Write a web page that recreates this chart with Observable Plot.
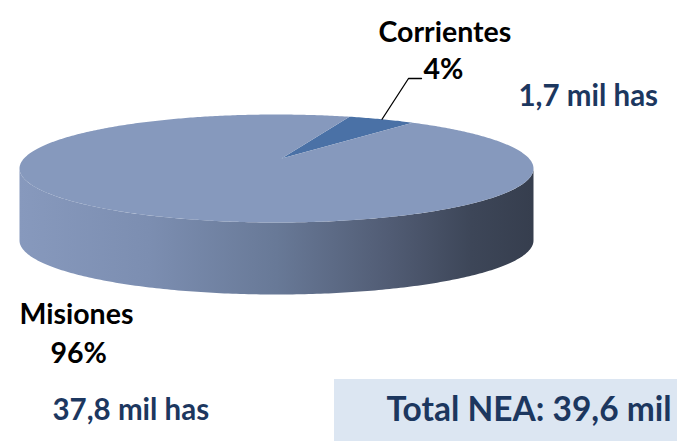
<!DOCTYPE html>
<html>
<head>
<meta charset="utf-8">
<script src="https://cdn.jsdelivr.net/npm/d3@7"></script>
<script src="https://cdn.jsdelivr.net/npm/@observablehq/plot@0.6"></script>
<style>
  html, body { margin: 0; padding: 0; background: #ffffff; }
  #chart { width: 677px; height: 441px; overflow: hidden; }
  svg { font-family: Lato, "Open Sans", sans-serif; font-weight: bold; }
</style>
</head>
<body>
<div id="chart"></div>
<script>
// ---- data ----
const categories = ["Corrientes", "Misiones"];
const values = [1.7, 37.8];                       // mil has
const valueLabels = ["1,7 mil has", "37,8 mil has"];
const totalLabel = "Total NEA: 39,6 mil";

// ---- styles / layout ----
const W = 677, H = 441;
const sliceColors = {Corrientes: "#4A71A6", Misiones: "#8699BD"};
const navy = "#1C375F";
const pie3d = {cx: 276, cy: 168, rx: 257, ry: 54, depth: 72, apexDx: 5, apexDy: -10, start: 16.5 * Math.PI / 180};
const labelPos = {
  Corrientes: {name: [378, 41], pct: [423, 78], val: [518, 105], elbow: [[408, 78], [421, 78]]},
  Misiones:   {name: [19, 323], pct: [50, 362], val: [52, 419]}
};
const box = {x1: 334, x2: 677, y1: 379, y2: 441};
const totalPos = [386, 420];

// ---- geometry from data ----
const total = d3.sum(values);
const rows = categories.map((c, i) => ({name: c, value: values[i], pct: Math.round(100 * values[i] / total) + "%", val: valueLabels[i]}));
const arcs = d3.pie().sort(null).value(d => d.value)
  .startAngle(pie3d.start).endAngle(pie3d.start + 2 * Math.PI)(rows);

const ex = a => pie3d.cx + pie3d.rx * Math.sin(a);
const ey = a => pie3d.cy - pie3d.ry * Math.cos(a);

const slicePts = [];
for (const a of arcs) {
  const name = a.data.name;
  slicePts.push({name, x: pie3d.cx + pie3d.apexDx, y: pie3d.cy + pie3d.apexDy});
  const n = Math.max(8, Math.ceil((a.endAngle - a.startAngle) / 0.01));
  for (let k = 0; k <= n; k++) {
    const t = a.startAngle + (a.endAngle - a.startAngle) * k / n;
    slicePts.push({name, x: ex(t), y: ey(t)});
  }
}

// front side wall (visible half from right extreme through bottom to left extreme)
const sidePts = [];
const ns = 200;
for (let k = 0; k <= ns; k++) {
  const t = Math.PI / 2 + Math.PI * k / ns;
  sidePts.push({x: ex(t), y: ey(t)});
}
for (let k = ns; k >= 0; k--) {
  const t = Math.PI / 2 + Math.PI * k / ns;
  sidePts.push({x: ex(t), y: ey(t) + pie3d.depth});
}

// leader line for Corrientes
const cArc = arcs.find(a => a.data.name === "Corrientes");
const mid = (cArc.startAngle + cArc.endAngle) / 2;
const leader = [{x: ex(mid), y: ey(mid)}, ...labelPos.Corrientes.elbow.map(([x, y]) => ({x, y}))];

const nameLabels = rows.map(r => ({text: r.name, x: labelPos[r.name].name[0], y: labelPos[r.name].name[1]}));
const pctLabels = rows.map(r => ({text: r.pct, x: labelPos[r.name].pct[0], y: labelPos[r.name].pct[1]}));
const valLabels = rows.map(r => ({text: r.val, x: labelPos[r.name].val[0], y: labelPos[r.name].val[1]}));

const plot = Plot.plot({
  width: W, height: H,
  margin: 0,
  x: {domain: [0, W], range: [0, W], axis: null},
  y: {domain: [0, H], range: [0, H], axis: null},
  color: {type: "identity"},
  marks: [
    Plot.rect([box], {x1: "x1", x2: "x2", y1: "y1", y2: "y2", fill: "#DCE6F2"}),
    Plot.line(sidePts, {x: "x", y: "y", fill: "url(#sideGrad)", stroke: "none"}),
    Plot.line(slicePts, {x: "x", y: "y", z: "name", fill: d => sliceColors[d.name], stroke: "none"}),
    Plot.line(leader, {x: "x", y: "y", stroke: "#000", strokeWidth: 1.3}),
    Plot.text(nameLabels, {x: "x", y: "y", text: "text", textAnchor: "start", lineAnchor: "bottom", fontSize: 28.5, fontWeight: "bold", fill: "#000"}),
    Plot.text(pctLabels, {x: "x", y: "y", text: "text", textAnchor: "start", lineAnchor: "bottom", fontSize: 28.5, fontWeight: "bold", fill: "#000"}),
    Plot.text(valLabels, {x: "x", y: "y", text: "text", textAnchor: "start", lineAnchor: "bottom", fontSize: 29.5, fontWeight: "bold", fill: navy}),
    Plot.text([totalLabel], {x: () => totalPos[0], y: () => totalPos[1], text: d => d, textAnchor: "start", lineAnchor: "bottom", fontSize: 33.5, fontWeight: "bold", fill: navy})
  ]
});

// gradient definition for the shaded wall
const svg = d3.select(plot);
const defs = svg.insert("defs", ":first-child");
const g = defs.append("linearGradient").attr("id", "sideGrad").attr("x1", 0).attr("x2", 1).attr("y1", 0).attr("y2", 0);
[[0, "#8799BD"], [0.25, "#7C8EB1"], [0.5, "#687997"], [0.72, "#515C74"], [0.88, "#3D4658"], [1, "#363E4E"]]
  .forEach(([o, c]) => g.append("stop").attr("offset", o).attr("stop-color", c));

document.getElementById("chart").appendChild(plot);
</script>
</body>
</html>
